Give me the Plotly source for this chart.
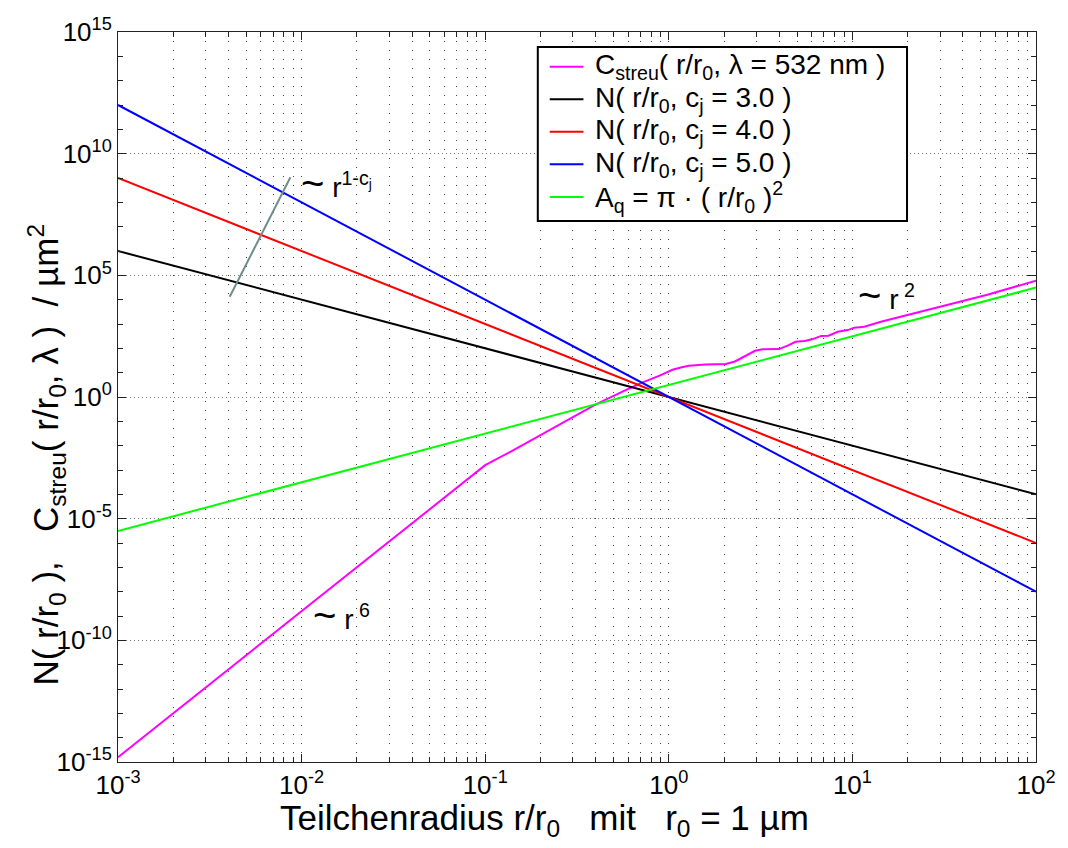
import plotly.graph_objects as go

# ---------------- data ----------------
r_lines = [1e-3, 1e-2, 1e-1, 1e0, 1e1, 1e2]
N_c3 = [1e6, 1e4, 1e2, 1e0, 1e-2, 1e-4]
N_c4 = [1e9, 1e6, 1e3, 1e0, 1e-3, 1e-6]
N_c5 = [1e12, 1e8, 1e4, 1e0, 1e-4, 1e-8]
A_q = [3.14e-6, 3.14e-4, 3.14e-2, 3.14, 314, 3.14e4]

r_streu = [0.001, 0.01, 0.0316, 0.0631, 0.1, 0.137, 0.207, 0.314, 0.403, 0.586,
           0.721, 0.891, 1.047, 1.175, 1.288, 1.585, 2.042, 2.291, 2.630, 2.951,
           3.236, 3.981, 4.467, 4.898, 5.495, 6.026, 6.761, 7.413, 8.318, 9.441,
           10.23, 11.61, 14.29, 23.44, 35.48, 53.70, 100.0]
C_streu = [1.58e-15, 1.58e-9, 1.58e-6, 1.0e-4, 1.58e-3, 5.62e-3, 3.24e-2, 0.182, 0.513, 1.95,
           3.98, 7.59, 13.2, 16.6, 19.1, 21.9, 22.9, 28.8, 50.1, 79.4,
           91.2, 93.3, 132, 186, 200, 234, 324, 331, 479, 562,
           708, 776, 1230, 3160, 7080, 15500, 60300]

guide_r = [0.00406, 0.00869]
guide_y = [1.32e4, 1.07e9]

x_tickvals = [1e-3, 1e-2, 1e-1, 1e0, 1e1, 1e2]
x_ticktext = ["10<sup>-3</sup>", "10<sup>-2</sup>", "10<sup>-1</sup>", "10<sup>0</sup>",
              "10<sup>1</sup>", "10<sup>2</sup>"]
y_tickvals = [1e-15, 1e-10, 1e-5, 1e0, 1e5, 1e10, 1e15]
y_ticktext = ["10<sup>-15</sup>", "10<sup>-10</sup>", "10<sup>-5</sup>", "10<sup>0</sup>",
              "10<sup>5</sup>", "10<sup>10</sup>", "10<sup>15</sup>"]

names = ["C<sub>streu</sub>( r/r<sub>0</sub>, λ = 532 nm )",
         "N( r/r<sub>0</sub>, c<sub>j</sub> = 3.0 )",
         "N( r/r<sub>0</sub>, c<sub>j</sub> = 4.0 )",
         "N( r/r<sub>0</sub>, c<sub>j</sub> = 5.0 )",
         "A<sub>q</sub> = π · ( r/r<sub>0</sub> )<sup>2</sup>"]
colors = ["#ff00ff", "#000000", "#ff0000", "#0000ff", "#00ff00"]

FONT = "Liberation Sans, Arial, Helvetica, sans-serif"

fig = go.Figure()
series = [(r_streu, C_streu), (r_lines, N_c3), (r_lines, N_c4), (r_lines, N_c5), (r_lines, A_q)]
for (xs, ys), nm, col in zip(series, names, colors):
    fig.add_trace(go.Scatter(x=xs, y=ys, mode="lines", name=nm, showlegend=False,
                             line=dict(color=col, width=2)))
fig.add_trace(go.Scatter(x=guide_r, y=guide_y, mode="lines", showlegend=False,
                         line=dict(color="#708c91", width=2)))

x_minor = [k * 10.0 ** e for e in range(-3, 2) for k in range(2, 10)]
y_minor = [10.0 ** e for e in range(-15, 16) if e % 5 != 0]

fig.update_layout(
    width=1068, height=848,
    margin=dict(l=118, r=25, t=32, b=86),
    paper_bgcolor="white", plot_bgcolor="white",
    font=dict(family=FONT, size=26, color="black"),
    showlegend=False,
    xaxis=dict(type="log", range=[-3, 2], tickmode="array",
               tickvals=x_tickvals, ticktext=x_ticktext,
               ticks="inside", ticklen=8, tickcolor="#222", tickwidth=1,
               showline=True, linecolor="#222", linewidth=1, mirror="ticks",
               showgrid=True, gridcolor="#444", gridwidth=1, griddash="1px,8px",
               zeroline=False, tickfont=dict(size=26),
               minor=dict(tickmode="array", tickvals=x_minor, ticks="inside", ticklen=5,
                          tickcolor="#222", showgrid=True, gridcolor="#444",
                          gridwidth=1, griddash="1px,8px")),
    yaxis=dict(type="log", range=[-15, 15], tickmode="array",
               tickvals=y_tickvals, ticktext=y_ticktext,
               ticks="inside", ticklen=8, tickcolor="#222", tickwidth=1,
               showline=True, linecolor="#222", linewidth=1, mirror="ticks",
               showgrid=True, gridcolor="#777", gridwidth=1, griddash="1px,3px",
               zeroline=False, tickfont=dict(size=26),
               minor=dict(tickmode="array", tickvals=y_minor, ticks="inside", ticklen=5,
                          tickcolor="#222", showgrid=False)),
)

# ---- legend box (drawn by hand to match the reference's spacing) ----
fig.add_shape(type="rect", xref="paper", yref="paper", x0=0.4573, x1=0.8595, y0=0.7411, y1=0.9795,
              line=dict(color="black", width=2), fillcolor="white", layer="above")
for i, (nm, col) in enumerate(zip(names, colors)):
    yy = 0.9525 - i * 0.0446
    fig.add_shape(type="line", xref="paper", yref="paper", x0=0.4703, x1=0.5070, y0=yy, y1=yy,
                  line=dict(color=col, width=2), layer="above")
    fig.add_annotation(xref="paper", yref="paper", x=0.5170, y=yy, xanchor="left", yanchor="middle",
                       text=nm, showarrow=False, font=dict(family=FONT, size=28, color="black"))

TILDE = "<span style='font-size:40px'>~</span>"
ann = [
    dict(text=TILDE + " r<sup>1-c<sub>j</sub></sup>", x=0.1968, y=0.7932, xanchor="left", yanchor="middle", size=28),
    dict(text=TILDE + " r<sup> 6</sup>", x=0.2097, y=0.2014, xanchor="left", yanchor="middle", size=28),
    dict(text=TILDE + " r<sup> 2</sup>", x=0.8043, y=0.6397, xanchor="left", yanchor="middle", size=28),
    dict(text="Teilchenradius r/r<sub>0</sub>   mit   r<sub>0</sub> = 1 µm",
         x=0.465, y=-0.0795, xanchor="center", yanchor="middle", size=35),
    dict(text="N( r/r<sub>0</sub> ),   C<sub>streu</sub>( r/r<sub>0</sub>, λ )  / µm<sup>2</sup>",
         x=-0.0789, y=0.4205, xanchor="center", yanchor="middle", textangle=-90, size=35),
]
for a in ann:
    sz = a.pop("size")
    fig.add_annotation(xref="paper", yref="paper", showarrow=False,
                       font=dict(family=FONT, size=sz, color="black"), **a)

fig.write_html("out.html")
